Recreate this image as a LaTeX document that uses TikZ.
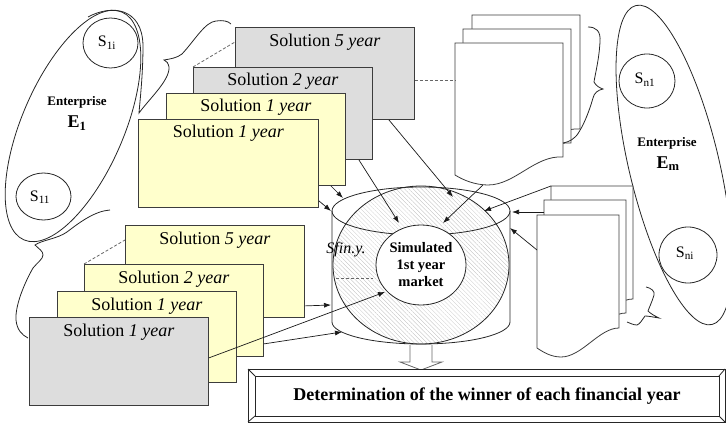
\documentclass[tikz,border=0pt]{standalone}
\usepackage{fontspec}
\setmainfont{Liberation Serif}
\usetikzlibrary{arrows.meta,patterns.meta,calc}
\definecolor{solyellow}{HTML}{FFFFCC}
\definecolor{solgray}{HTML}{DDDDDD}
\definecolor{edge}{HTML}{3C3C3C}
\begin{document}
\begin{tikzpicture}[x=1pt,y=-1pt,
  solbox/.style={draw=edge, line width=0.9pt, minimum width=179pt, minimum height=92pt, inner sep=0pt, anchor=north west},
  soltext/.style={font=\fontsize{18}{20}\selectfont, anchor=base, inner sep=0pt},
  outline/.style={draw=black!85, line width=0.8pt},
  conn/.style={draw=black!90, line width=0.7pt, -{Latex[length=7pt,width=5pt]}},
  dashlink/.style={draw=black!60, line width=0.8pt, dash pattern=on 3pt off 2pt},
  docline/.style={draw=edge, line width=0.8pt, fill=white},
  stext/.style={font=\fontsize{16}{18}\selectfont, inner sep=0pt},
  enttext/.style={font=\bfseries\fontsize{13}{15}\selectfont, inner sep=0pt, anchor=base},
  entname/.style={font=\bfseries\fontsize{18}{20}\selectfont, inner sep=0pt, anchor=base},
  topdoc/.pic={
    \path[docline] (0,0) -- (108,0) -- (108,114) .. controls (80,112) and (60,142) .. (33,142)
      .. controls (20,142) and (8,137) .. (0,132) -- cycle;
    \coordinate (-nw) at (0,0);
    \coordinate (-dip) at (28,142);
  },
  botdoc/.pic={
    \path[docline] (0,0) -- (82,0) -- (82,113) .. controls (62,113) and (45,142) .. (24,142)
      .. controls (14,142) and (6,137) .. (0,133) -- cycle;
    \coordinate (-nw) at (0,0);
  }
]
\useasboundingbox (0,0) rectangle (726,425);

% ---------- Enterprise E1 ----------
\draw[outline, rotate around={66.7:(73,126)}] (73,126) ellipse [x radius=124pt, y radius=51pt];
\draw[outline] (110.5,43) ellipse [x radius=27.5pt, y radius=25pt];
\draw[outline] (43.5,196.5) ellipse [x radius=27.5pt, y radius=23.5pt];
\node[stext] (s1i) at (107,43) {S\textsubscript{1i}};
\node[stext] (s11) at (40,197) {S\textsubscript{11}};
\node[enttext] (ent1) at (77,106) {Enterprise};
\node[entname] (e1) at (77,128) {E\textsubscript{1}};

% brace gathering the upper solutions
\draw[outline] (88,17) .. controls (112,4) and (142,8) .. (143,45)
  .. controls (143,75) and (140,100) .. (139,113)
  .. controls (150,98) and (170,80) .. (169,67)
  .. controls (168,63) and (167,61) .. (164,60)
  .. controls (170,59) and (177,58) .. (182,54)
  .. controls (195,40) and (205,22) .. (216,21)
  .. controls (223,20) and (228,21) .. (231,24);
% brace gathering the lower solutions
\draw[outline] (110,210) .. controls (95,211) and (80,222) .. (67,232)
  .. controls (57,239) and (42,240) .. (35,245)
  .. controls (39,249) and (43,251) .. (43,255)
  .. controls (43,259) and (37,263) .. (33,268)
  .. controls (25,282) and (15,305) .. (16,320)
  .. controls (17,330) and (22,335) .. (28,338);

% ---------- upper stack of solutions ----------
\node[solbox, fill=solgray] (t5) at (235,27) {};
\node[soltext] (t5t) at ([yshift=-20pt]t5.north) {Solution \textit{5 year}};
\node[solbox, fill=solgray] (t2) at (193,67) {};
\node[soltext] (t2t) at ([yshift=-19pt]t2.north) {Solution \textit{2 year}};
\node[solbox, fill=solyellow] (t1b) at (166,93) {};
\node[soltext] (t1bt) at ([yshift=-19pt]t1b.north) {Solution \textit{1 year}};
\node[solbox, fill=solyellow, minimum width=180pt, minimum height=88pt] (t1a) at (138,119) {};
\node[soltext] (t1at) at ([yshift=-19pt]t1a.north) {Solution \textit{1 year}};
\draw[dashlink] (t2.north west) -- ([yshift=-15pt]t5.north west);

% ---------- lower stack of solutions ----------
\node[solbox, fill=solyellow] (b5) at (125,225) {};
\node[soltext] (b5t) at ([yshift=-19pt]b5.north) {Solution \textit{5 year}};
\node[solbox, fill=solyellow] (b2) at (84,264) {};
\node[soltext] (b2t) at ([yshift=-19pt]b2.north) {Solution \textit{2 year}};
\node[solbox, fill=solyellow, minimum height=91pt] (b1b) at (57,291) {};
\node[soltext] (b1bt) at ([yshift=-19pt]b1b.north) {Solution \textit{1 year}};
\node[solbox, fill=solgray, minimum height=88pt] (b1a) at (29,317) {};
\node[soltext] (b1at) at ([yshift=-19pt]b1a.north) {Solution \textit{1 year}};
\draw[dashlink] (b2.north west) -- ([yshift=-15pt]b5.north west);

% ---------- documents of enterprise Em ----------
\pic (dtb) at (472,15) {topdoc};
\pic (dtm) at (463,29) {topdoc};
\pic (dtf) at (455,43) {topdoc};
\draw[dashlink] ([yshift=-53pt]t5.north east) -- ([yshift=-37pt]dtf-nw);
\draw[outline] (588,27) .. controls (596,27) and (601,31) .. (600,42)
  .. controls (599,60) and (595,75) .. (594,82)
  .. controls (596,86) and (600,88) .. (603,89)
  .. controls (598,90) and (594,93) .. (593,98)
  .. controls (589,112) and (584,124) .. (579,132)
  .. controls (575,139) and (569,142) .. (563,143);

% ---------- Enterprise Em ----------
\draw[outline, rotate around={103.4:(674,165)}] (674,165) ellipse [x radius=164pt, y radius=45pt];
\draw[outline] (647,81) ellipse [x radius=28pt, y radius=27pt];
\draw[outline] (688,255) ellipse [x radius=29pt, y radius=28pt];
\node[stext] (sn1) at (645,80) {S\textsubscript{n1}};
\node[stext] (sni) at (685,253) {S\textsubscript{ni}};
\node[enttext] (entm) at (667,147) {Enterprise};
\node[entname] (em) at (668,168) {E\textsubscript{m}};

\pic (dbb) at (551,186) {botdoc};
\pic (dbm) at (544,200) {botdoc};
\pic (dbf) at (537,215) {botdoc};
\draw[outline] (646,287) .. controls (651,288) and (655,291) .. (654,295)
  .. controls (652,302) and (649,308) .. (648,311)
  .. controls (651,314) and (655,316) .. (659,318)
  .. controls (653,317) and (648,316) .. (645,316)
  .. controls (642,320) and (640,324) .. (637,325)
  .. controls (633,325) and (630,323) .. (627,322);

% ---------- simulated market cylinder ----------
\draw[outline] (332,211) -- (332,322) arc[start angle=180, end angle=360, x radius=89pt, y radius=22pt] -- (510,211);
\path[pattern={Lines[angle=-45,distance=3pt,line width=0.25pt]}, pattern color=black!25]
  (421,265) ellipse [x radius=88pt, y radius=79pt];
\draw[outline] (421,265) ellipse [x radius=88pt, y radius=79pt];
\draw[outline] (421,211) ellipse [x radius=89pt, y radius=24pt];
\draw[outline, fill=white] (421,265) ellipse [x radius=45pt, y radius=40pt];
\node[font=\bfseries\fontsize{14.5}{17}\selectfont, align=center, inner sep=0pt] (mkt) at (421,265) {Simulated\\1st year\\market};
\node[font=\itshape\fontsize{16}{18}\selectfont, inner sep=0pt] (sfin) at (346,250) {Sfin.y.};
\coordinate (dl) at (336,278);
\coordinate (dr) at (373,278);
\draw[dashlink] (dl) -- (dr);

% arrow tips on the cylinder
\coordinate (c1) at (453,197);
\coordinate (c2) at (399,223);
\coordinate (c3) at (343,198);
\coordinate (c4) at (331,211);
\coordinate (c5) at (443,223);
\coordinate (c6) at (484,211);
\coordinate (c7) at (512,212);
\coordinate (c8) at (510,228);
\coordinate (c9) at (331,305);
\coordinate (c10) at (342,332);
\coordinate (c11) at (385,292);

\draw[conn] ([xshift=-26pt]t5.south east) -- (c1);
\draw[conn] ([xshift=-14pt]t2.south east) -- (c2);
\draw[conn] ([xshift=-15pt]t1b.south east) -- (c3);
\draw[conn] ([yshift=7pt]t1a.south east) -- (c4);
\draw[conn] (dtf-dip) -- (c5);
\draw[conn] (dbb-nw) -- (c6);
\draw[conn] ([yshift=-12pt]dbm-nw) -- (c7);
\draw[conn] ([yshift=-35pt]dbf-nw) -- (c8);
\draw[conn] ([yshift=12pt]b5.south east) -- (c9);
\draw[conn] ([yshift=13pt]b2.south east) -- (c10);
\draw[conn] ([yshift=48pt]b1a.south east) -- (c11);

% ---------- result ----------
\draw[draw=black!60, line width=0.8pt, fill=white] (410,345) -- (410,362) -- (400,362) -- (421,370) -- (442,362) -- (432,362) -- (432,345);
\draw[outline, fill=white] (248,369) rectangle (725,422);
\draw[outline] (255,376) rectangle (719,416);
\draw[outline] (248,369) -- (255,376) (725,369) -- (719,376) (248,422) -- (255,416) (725,422) -- (719,416);
\node[font=\bfseries\fontsize{18}{20}\selectfont, inner sep=0pt] (det) at (487,396) {Determination of the winner of each financial year};
\end{tikzpicture}
\end{document}
